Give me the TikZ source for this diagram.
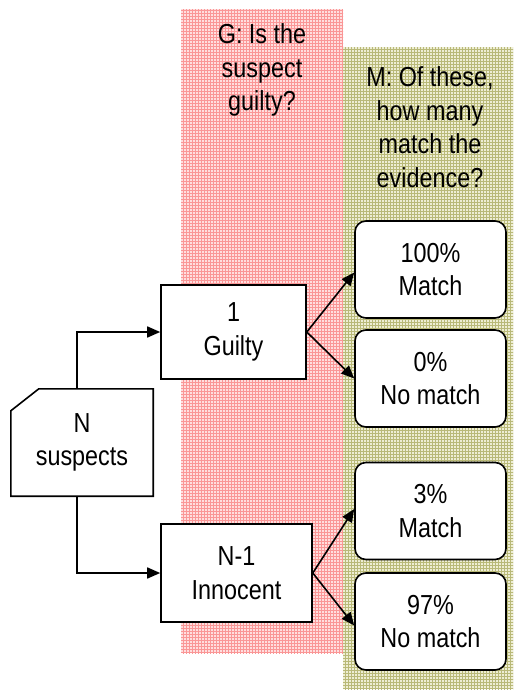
\documentclass[tikz,border=0pt]{standalone}
\usepackage{fontspec}
\setmainfont[FakeStretch=0.85]{Liberation Sans}
\usetikzlibrary{arrows.meta,patterns}
\definecolor{pinkbg}{RGB}{255,222,222}
\definecolor{pinkln}{RGB}{250,150,150}
\definecolor{greenbg}{RGB}{238,238,212}
\definecolor{greenln}{RGB}{185,185,120}
\tikzset{
  box/.style={draw, line width=1.6pt, fill=white, align=center, inner sep=0pt,
    font=\fontsize{27.5}{33.5}\selectfont},
  rbox/.style={box, rounded corners=11pt, minimum width=151pt, minimum height=97pt},
  qtext/.style={align=center, font=\fontsize{27.5}{33.5}\selectfont},
  arr/.style={line width=1.6pt, -{Triangle[length=13pt,width=11pt]}},
}
\begin{document}
\begin{tikzpicture}[x=1pt,y=-1pt]
\useasboundingbox (0,0) rectangle (515,691);
% background columns
\fill[pinkbg] (181,9) rectangle (343,653);
\fill[pattern=grid, pattern color=pinkln] (181,9) rectangle (343,653);
\fill[greenbg] (343,47) rectangle (513,689);
\fill[pattern=grid, pattern color=greenln] (343,47) rectangle (513,689);
% headings
\node[qtext] (gq) at (262,70) {G: Is the\\suspect\\guilty?};
\node[qtext] (mq) at (430,127) {M: Of these,\\how many\\match the\\evidence?};
% N suspects (cut-corner card)
\node[minimum width=142pt, minimum height=107pt, inner sep=0pt] (ns) at (82,442.5) {};
\draw[line width=1.6pt, fill=white] (ns.south west) -- (ns.south east) -- (ns.north east)
  -- ([xshift=28pt]ns.north west) -- ([yshift=-22pt]ns.north west) -- cycle;
\node[qtext] at (ns.center) {N\\suspects};
% middle boxes
\node[box, minimum width=145pt, minimum height=94pt] (g) at (233.5,332) {1\\Guilty};
\node[box, minimum width=151pt, minimum height=98pt] (i) at (236.5,573) {N-1\\Innocent};
% right boxes
\node[rbox] (m1) at (430.5,269.5) {100\%\\Match};
\node[rbox] (m2) at (430.5,378.5) {0\%\\No match};
\node[rbox] (m3) at (430.5,511) {3\%\\Match};
\node[rbox] (m4) at (430.5,621.5) {97\%\\No match};
% connectors
\draw[arr] ([xshift=-5pt]ns.north) |- (g.west);
\draw[arr] ([xshift=-5pt]ns.south) |- (i.west);
\draw[arr] (g.east) -- ([yshift=-3pt]m1.west);
\draw[arr] (g.east) -- (m2.west);
\draw[arr] (i.east) -- ([yshift=2pt]m3.west);
\draw[arr] (i.east) -- ([yshift=-4pt]m4.west);
\end{tikzpicture}
\end{document}
